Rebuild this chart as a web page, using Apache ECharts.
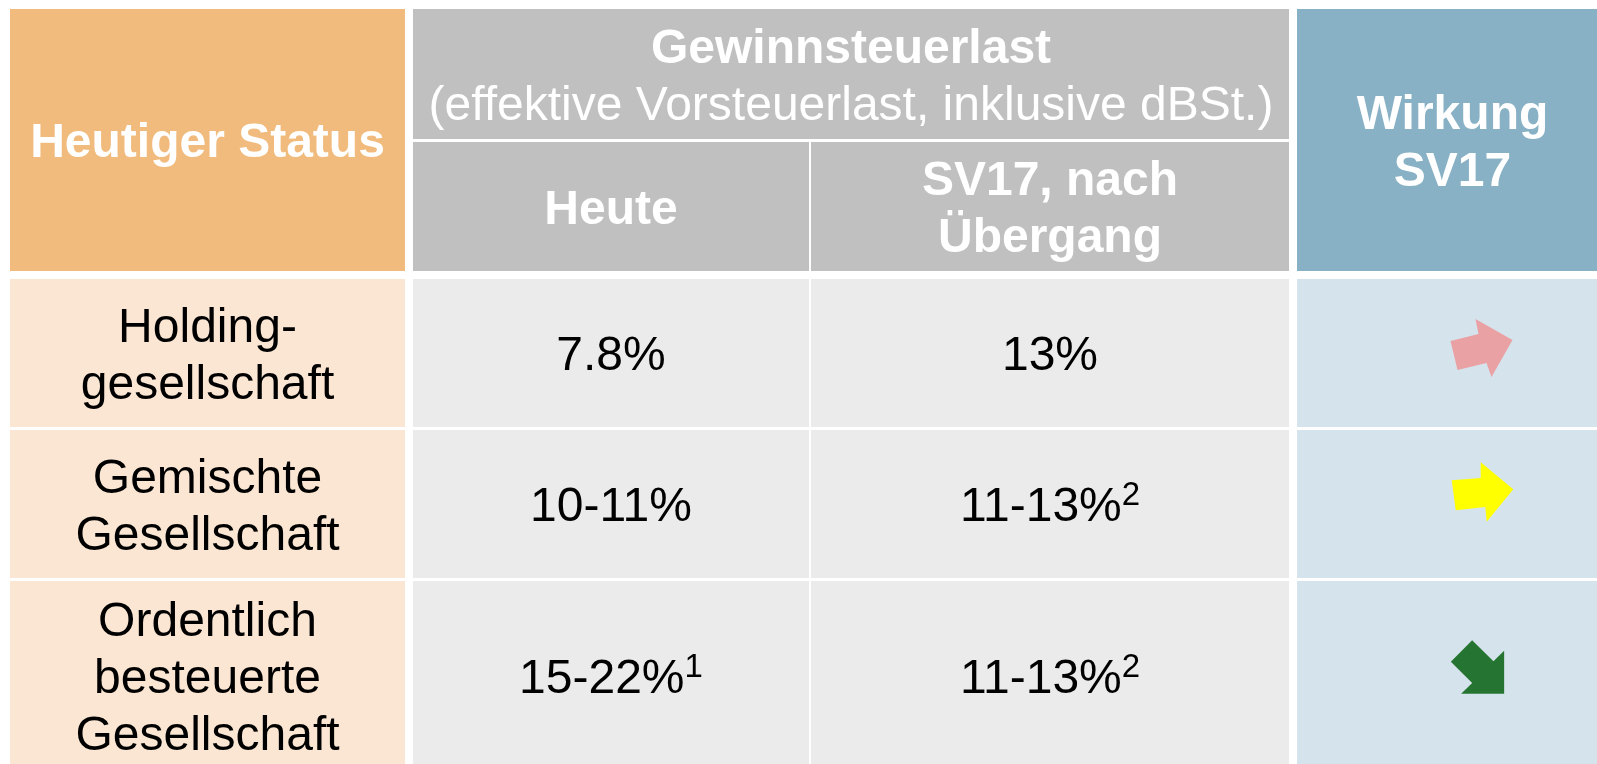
<!DOCTYPE html>
<html>
<head>
<meta charset="utf-8">
<script src="https://cdn.jsdelivr.net/npm/echarts@6/dist/echarts.min.js"></script>
<style>
html,body{margin:0;padding:0;background:#fff;}
#chart{width:1597px;height:764px;}
</style>
</head>
<body>
<div id="chart"></div>
<script>
// ---------- data ----------
const headerStatus = 'Heutiger Status';
const headerLoad = 'Gewinnsteuerlast';
const headerLoadSub = '(effektive Vorsteuerlast, inklusive dBSt.)';
const headerToday = 'Heute';
const headerSV17 = 'SV17, nach\nÜbergang';
const headerEffect = 'Wirkung\nSV17';
const categories = ['Holding-\ngesellschaft', 'Gemischte\nGesellschaft', 'Ordentlich\nbesteuerte\nGesellschaft'];
const todayValues = ['7.8%', '10-11%', '15-22%'];
const todayNotes = ['', '', '1'];
const sv17Values = ['13%', '11-13%', '11-13%'];
const sv17Notes = ['', '2', '2'];
const effects = ['up', 'neutral', 'down'];

// ---------- layout & style ----------
const W = 1597, H = 764;
const COLS = [[10, 405], [413, 809], [811, 1289], [1297, 1608]];
const HEAD = [9, 271];
const HEAD_TOP = [9, 139];
const HEAD_BOTTOM = [142, 271];
const ROWS = [[279, 427], [430, 578], [581, 771]];
const TEXT_SHIFT = 4;
const FONT = '"Liberation Sans", Arial, Helvetica, sans-serif';
const C = {
  orangeHead: '#F0BB7C', orangeBody: '#FAE6D3',
  grayHead: '#C0C0C0', grayBody: '#EBEBEB',
  blueHead: '#89B1C5', blueBody: '#D5E4EC'
};
const arrowStyle = {
  up: {
    color: '#EAA1A4', size: [62, 58], offset: [29, -5],
    path: 'path://M0,22 L28,15 L25,0 L62,21 L41,58 L36,44 L7,51 Z'
  },
  neutral: {
    color: '#FFFF00', size: [61.6, 59.3], offset: [30, -12],
    path: 'path://M0,18 L29,15.6 L29,0 L61.6,27 L35,59.3 L33.6,44.6 L4,48 Z'
  },
  down: {
    color: '#267431', size: [53.3, 53.3], offset: [25, -9],
    path: 'path://M21.3,0 L42.6,21 L53.3,10.3 L53.3,53.3 L10.3,53.3 L21.3,42.6 L0,21.3 Z'
  }
};

const richStyles = {
  hb: { fontFamily: FONT, fontSize: 48, fontWeight: 'bold', fill: '#ffffff', lineHeight: 57 },
  hr: { fontFamily: FONT, fontSize: 48, fill: '#ffffff', lineHeight: 57 },
  v: { fontFamily: FONT, fontSize: 48, fill: '#000000', lineHeight: 57 },
  sup: { fontFamily: FONT, fontSize: 33, fill: '#000000', lineHeight: 50, verticalAlign: 'top' }
};

function tagLines(text, tag) {
  return text.split('\n').map(function (l) { return '{' + tag + '|' + l + '}'; }).join('\n');
}
function valueText(v, note) {
  return '{v|' + v + '}' + (note ? '{sup|' + note + '}' : '');
}

// ---------- cells ----------
const cells = [];
function addCell(x, y, fill, text) {
  cells.push({ value: [x[0], y[0], x[1], y[1]], fill: fill, text: text || '' });
}
addCell(COLS[0], HEAD, C.orangeHead, tagLines(headerStatus, 'hb'));
addCell([COLS[1][0], COLS[2][1]], HEAD_TOP, C.grayHead, '{hb|' + headerLoad + '}\n{hr|' + headerLoadSub + '}');
addCell(COLS[1], HEAD_BOTTOM, C.grayHead, tagLines(headerToday, 'hb'));
addCell(COLS[2], HEAD_BOTTOM, C.grayHead, tagLines(headerSV17, 'hb'));
addCell(COLS[3], HEAD, C.blueHead, tagLines(headerEffect, 'hb'));
categories.forEach(function (cat, i) {
  addCell(COLS[0], ROWS[i], C.orangeBody, tagLines(cat, 'v'));
  addCell(COLS[1], ROWS[i], C.grayBody, valueText(todayValues[i], todayNotes[i]));
  addCell(COLS[2], ROWS[i], C.grayBody, valueText(sv17Values[i], sv17Notes[i]));
  addCell(COLS[3], ROWS[i], C.blueBody, '');
});

const arrowData = effects.map(function (e, i) {
  const st = arrowStyle[e];
  return {
    value: [(COLS[3][0] + COLS[3][1]) / 2, (ROWS[i][0] + ROWS[i][1]) / 2],
    symbol: st.path,
    symbolSize: st.size,
    symbolOffset: st.offset,
    itemStyle: { color: st.color, opacity: 1 }
  };
});

const chart = echarts.init(document.getElementById('chart'), null, { renderer: 'canvas' });
chart.setOption({
  backgroundColor: '#ffffff',
  animation: false,
  grid: { left: 0, right: 0, top: 0, bottom: 0 },
  xAxis: { type: 'value', min: 0, max: W, show: false },
  yAxis: { type: 'value', min: 0, max: H, inverse: true, show: false },
  series: [
    {
      type: 'custom',
      silent: true,
      data: cells,
      renderItem: function (params, api) {
        const p0 = api.coord([api.value(0), api.value(1)]);
        const p1 = api.coord([api.value(2), api.value(3)]);
        const item = cells[params.dataIndex];
        return {
          type: 'rect',
          shape: { x: p0[0], y: p0[1], width: p1[0] - p0[0], height: p1[1] - p0[1] },
          style: { fill: item.fill },
          textContent: {
            style: {
              text: item.text,
              rich: richStyles,
              align: 'center',
              verticalAlign: 'middle',
              fontFamily: FONT,
              fontSize: 48
            }
          },
          textConfig: { position: 'inside', offset: [0, TEXT_SHIFT] }
        };
      }
    },
    {
      type: 'scatter',
      silent: true,
      z: 5,
      data: arrowData
    }
  ]
});
</script>
</body>
</html>
